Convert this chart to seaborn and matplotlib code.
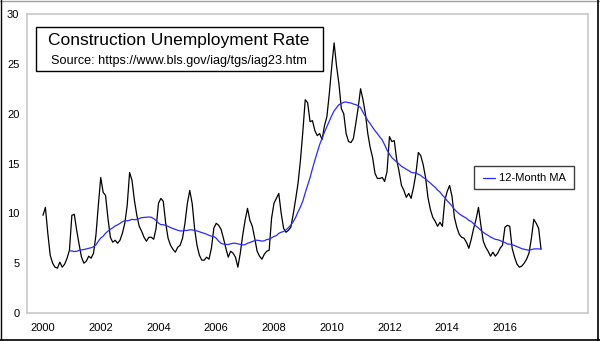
import numpy as np
import pandas as pd
import matplotlib
matplotlib.use("Agg")
import matplotlib.pyplot as plt
from matplotlib.lines import Line2D
from matplotlib.patches import Rectangle
import seaborn as sns

# Monthly construction unemployment rate (%), not seasonally adjusted
rate_2000 = [9.8, 10.6, 8.0, 5.8, 5.0, 4.6, 4.5, 5.1, 4.6, 4.9, 5.5, 6.3]
rate_2001 = [9.8, 9.9, 8.3, 6.9, 5.6, 5.0, 5.2, 5.7, 5.5, 6.0, 7.8, 10.8]
rate_2002 = [13.6, 12.1, 11.8, 9.5, 7.6, 7.1, 7.3, 7.0, 7.3, 8.0, 9.0, 10.8]
rate_2003 = [14.1, 13.3, 11.3, 9.8, 8.7, 8.2, 7.6, 7.2, 7.6, 7.6, 7.4, 8.5]
rate_2004 = [11.0, 11.5, 11.2, 9.0, 7.5, 6.8, 6.4, 6.1, 6.6, 6.8, 7.5, 9.0]
rate_2005 = [11.0, 12.3, 11.0, 8.5, 6.8, 5.8, 5.3, 5.3, 5.6, 5.4, 6.5, 8.5]
rate_2006 = [9.0, 8.8, 8.4, 7.5, 6.5, 5.6, 6.2, 6.0, 5.6, 4.6, 6.0, 7.8]
rate_2007 = [9.3, 10.5, 9.3, 8.7, 7.5, 6.2, 5.7, 5.4, 5.9, 6.2, 6.3, 9.5]
rate_2008 = [11.0, 11.5, 12.0, 10.0, 8.5, 8.1, 8.3, 8.6, 9.9, 11.4, 13.0, 15.3]
rate_2009 = [18.2, 21.4, 21.1, 19.2, 19.3, 18.3, 17.8, 18.0, 17.4, 18.8, 19.7, 22.0]
rate_2010 = [24.7, 27.1, 24.8, 23.0, 20.5, 20.0, 18.0, 17.2, 17.1, 17.5, 19.0, 20.6]
rate_2011 = [22.5, 21.4, 20.0, 18.0, 16.6, 15.6, 14.0, 13.5, 13.5, 13.6, 13.2, 14.2]
rate_2012 = [17.7, 17.2, 17.3, 15.4, 14.2, 12.8, 12.3, 11.6, 12.0, 11.5, 12.6, 14.0]
rate_2013 = [16.1, 15.8, 14.9, 13.6, 11.6, 10.4, 9.6, 9.2, 8.7, 9.1, 8.7, 11.3]
rate_2014 = [12.2, 12.8, 11.7, 9.6, 8.6, 7.9, 7.6, 7.5, 7.1, 6.5, 7.4, 8.5]
rate_2015 = [9.4, 10.6, 8.8, 7.2, 6.6, 6.2, 5.7, 6.1, 5.7, 6.0, 6.5, 6.8]
rate_2016 = [8.6, 8.8, 8.7, 6.5, 5.6, 4.9, 4.6, 4.7, 5.0, 5.4, 6.0, 7.5]
rate_2017 = [9.4, 9.0, 8.5, 6.4]

x_ticks = [2000, 2002, 2004, 2006, 2008, 2010, 2012, 2014, 2016]
y_ticks = [0, 5, 10, 15, 20, 25, 30]

rate = np.concatenate([rate_2000, rate_2001, rate_2002, rate_2003, rate_2004,
                       rate_2005, rate_2006, rate_2007, rate_2008, rate_2009,
                       rate_2010, rate_2011, rate_2012, rate_2013, rate_2014,
                       rate_2015, rate_2016, rate_2017])
months = pd.date_range("2000-01-01", periods=len(rate), freq="MS")
df = pd.DataFrame({
    "year": months.year + (months.month - 1) / 12.0,
    "rate": rate,
})
df["ma12"] = df["rate"].rolling(12).mean()

sns.set_theme(style="white")
plt.rcParams["font.family"] = ["Liberation Sans", "DejaVu Sans"]

W, H = 600, 341
fig = plt.figure(figsize=(W / 100, H / 100), dpi=100)
ax = fig.add_axes([27 / W, 28 / H, 561 / W, 299 / H])

blue = "#2a2aff"
sns.lineplot(data=df, x="year", y="rate", ax=ax, color="black", lw=0.9,
             estimator=None, legend=False)
sns.lineplot(data=df, x="year", y="ma12", ax=ax, color=blue, lw=0.9,
             estimator=None, legend=False)

ax.set_xlim(1999.446, 2018.877)
ax.set_ylim(0, 30)
ax.set_xticks(x_ticks)
ax.set_yticks(y_ticks)
ax.set_xticklabels([str(t) for t in x_ticks])
ax.set_yticklabels([str(t) for t in y_ticks])
ax.set_xlabel("")
ax.set_ylabel("")
ax.tick_params(axis="both", length=0, labelsize=8, labelcolor="black")
ax.tick_params(axis="x", pad=7)
ax.tick_params(axis="y", pad=5.5)
ax.grid(False)
for side in ["left", "right", "top", "bottom"]:
    ax.spines[side].set_color("#c4c4c4")
    ax.spines[side].set_linewidth(1.1)

# Title box
fig.add_artist(Rectangle((36 / W, 1 - 71 / H), 287 / W, 44 / H,
                         transform=fig.transFigure, facecolor="white",
                         edgecolor="black", lw=1.0, zorder=5))
fig.text(178.5 / W, 1 - 45.5 / H, "Construction Unemployment Rate",
         ha="center", va="baseline", fontsize=12.5, color="black", zorder=6)
fig.text(178.5 / W, 1 - 64 / H, "Source: https://www.bls.gov/iag/tgs/iag23.htm",
         ha="center", va="baseline", fontsize=9.1, color="black", zorder=6)

# Legend box for the moving average
fig.add_artist(Rectangle((474 / W, 1 - 189 / H), 100 / W, 23 / H,
                         transform=fig.transFigure, facecolor="white",
                         edgecolor="#404040", lw=1.0, zorder=5))
fig.add_artist(Line2D([483 / W, 495 / W], [1 - 178 / H, 1 - 178 / H],
                      transform=fig.transFigure, color=blue, lw=0.9, zorder=6))
fig.text(499 / W, 1 - 178 / H, "12-Month MA", ha="left", va="center",
         fontsize=8, color="black", zorder=6)

# Outer chart border
fig.add_artist(Line2D([0, 1], [1 - 0.5 / H, 1 - 0.5 / H],
                      transform=fig.transFigure, color="#a0a0a0", lw=1.0))
fig.add_artist(Line2D([0.5 / W, 0.5 / W], [0, 1],
                      transform=fig.transFigure, color="black", lw=1.0))
fig.add_artist(Line2D([598.3 / W, 598.3 / W], [0, 1],
                      transform=fig.transFigure, color="black", lw=1.2))
fig.add_artist(Line2D([0, 1], [0.6 / H, 0.6 / H],
                      transform=fig.transFigure, color="black", lw=1.2))

fig.savefig("out.png", dpi=100)
